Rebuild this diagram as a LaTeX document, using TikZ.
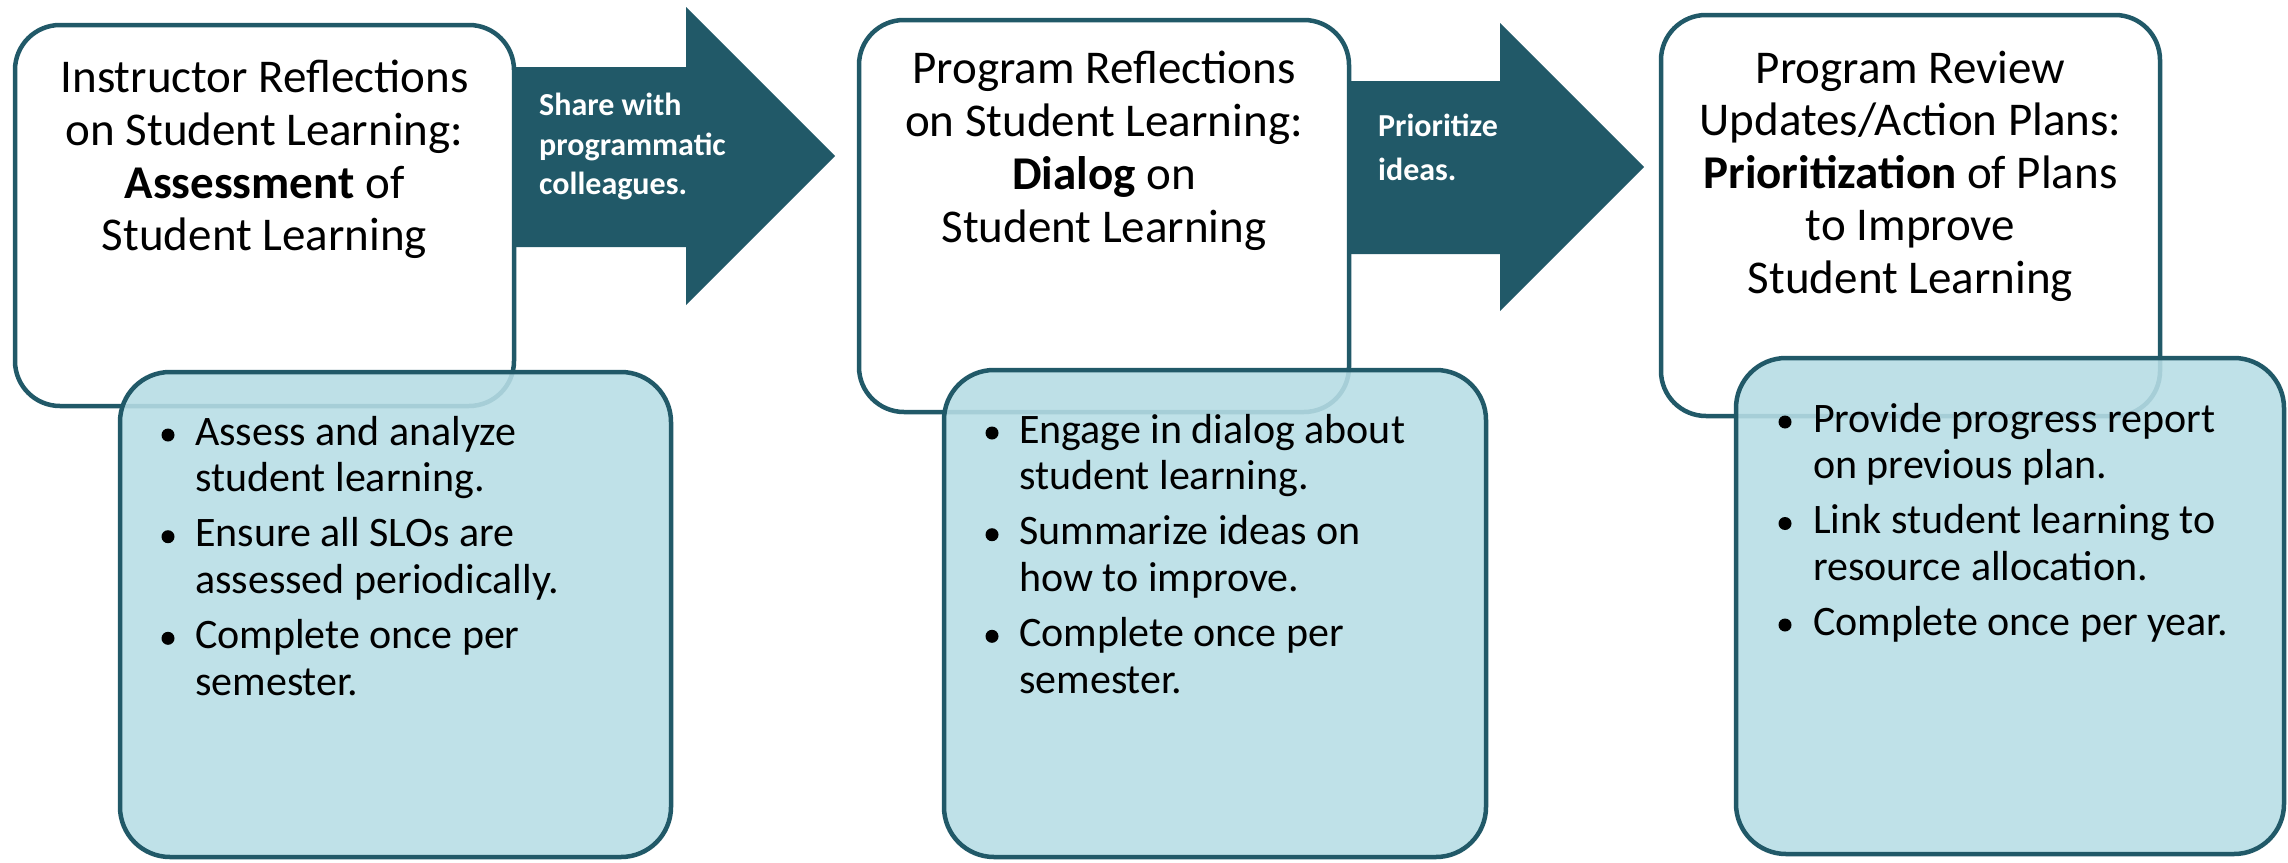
\documentclass[tikz,border=0pt]{standalone}
\usepackage{fontspec}
\setmainfont{Carlito}
\definecolor{deepteal}{RGB}{33,89,104}
\definecolor{paleblue}{RGB}{183,221,229}

\begin{document}
\begin{tikzpicture}[x=1pt,y=-1pt,
  panel/.style={draw=deepteal, line width=4.5pt, fill=white, rounded corners=45pt,
    inner sep=0pt, outer sep=0pt},
  detail/.style={draw=deepteal, line width=4.5pt, fill=paleblue, fill opacity=0.89,
    rounded corners=50pt, inner sep=0pt, outer sep=0pt},
  flow/.style={fill=deepteal},
  headline/.style={font=\fontsize{47}{52}\selectfont, anchor=base, inner sep=0pt},
  arrowtext/.style={font=\fontsize{32}{38}\selectfont\bfseries, text=white,
    anchor=base west, inner sep=0pt},
  itemtext/.style={font=\fontsize{42}{46}\selectfont, anchor=base west, inner sep=0pt},
  dot/.style={fill=black}
]
\useasboundingbox (0,0) rectangle (2288,862);

% upper white panels
\node[panel, minimum width=499pt, minimum height=381pt] (inst) at (264.5,215.5) {};
\node[panel, minimum width=490pt, minimum height=392pt] (prog) at (1104,216) {};
\node[panel, minimum width=499pt, minimum height=401pt] (rev)  at (1910.5,215.5) {};

% block arrows between the panels
\coordinate (a1up) at (686,67);
\coordinate (a1dn) at (686,247);
\fill[flow] (inst.east |- a1up) -- (a1up) -- (686,7) -- (835,156) -- (686,305)
  -- (a1dn) -- (inst.east |- a1dn) -- cycle;
\coordinate (a2up) at (1500,81);
\coordinate (a2dn) at (1500,254);
\fill[flow] (prog.east |- a2up) -- (a2up) -- (1500,23) -- (1644,167) -- (1500,311)
  -- (a2dn) -- (prog.east |- a2dn) -- cycle;

\node[arrowtext] (s1) at (539,115) {Share with};
\node[arrowtext] (s2) at (539,155) {programmatic};
\node[arrowtext] (s3) at (539,194) {colleagues.};
\node[arrowtext] (p1) at (1378,136) {Prioritize};
\node[arrowtext] (p2) at (1378,180) {ideas.};

% panel headings
\node[headline] (h11) at (264.5,92)  {Instructor Reflections};
\node[headline] (h12) at (264.5,145) {on Student Learning:};
\node[headline] (h13) at (264.5,198) {\textbf{Assessment} of};
\node[headline] (h14) at (264.5,250) {Student Learning};

\node[headline] (h21) at (1104,83)  {Program Reflections};
\node[headline] (h22) at (1104,136) {on Student Learning:};
\node[headline] (h23) at (1104,189) {\textbf{Dialog} on};
\node[headline] (h24) at (1104,242) {Student Learning};

\node[headline] (h31) at (1910.5,83)  {Program Review};
\node[headline] (h32) at (1910.5,135.5) {Updates/Action Plans:};
\node[headline] (h33) at (1910.5,188) {\textbf{Prioritization} of Plans};
\node[headline] (h34) at (1910.5,240.5) {to Improve};
\node[headline] (h35) at (1910.5,293) {Student Learning};

% lower detail panels
\node[detail, minimum width=551pt, minimum height=485pt] (d1) at (395.5,614.5) {};
\node[detail, minimum width=542pt, minimum height=487pt] (d2) at (1215,613.5) {};
\node[detail, minimum width=548pt, minimum height=496pt] (d3) at (2010,606) {};

% first list
\fill[dot] (168,435) circle (6.5);
\fill[dot] (168,536.7) circle (6.5);
\fill[dot] (168,638.3) circle (6.5);
\node[itemtext] (l11) at (195,445)   {Assess and analyze};
\node[itemtext] (l12) at (195,491.7) {student learning.};
\node[itemtext] (l13) at (195,546.7) {Ensure all SLOs are};
\node[itemtext] (l14) at (195,593.3) {assessed periodically.};
\node[itemtext] (l15) at (195,648.3) {Complete once per};
\node[itemtext] (l16) at (195,695)   {semester.};

% second list
\fill[dot] (992,433) circle (6.5);
\fill[dot] (992,534.7) circle (6.5);
\fill[dot] (992,636.3) circle (6.5);
\node[itemtext] (l21) at (1019,443)   {Engage in dialog about};
\node[itemtext] (l22) at (1019,489.7) {student learning.};
\node[itemtext] (l23) at (1019,544.7) {Summarize ideas on};
\node[itemtext] (l24) at (1019,591.3) {how to improve.};
\node[itemtext] (l25) at (1019,646.3) {Complete once per};
\node[itemtext] (l26) at (1019,693)   {semester.};

% third list
\fill[dot] (1785,422) circle (6.5);
\fill[dot] (1785,523.5) circle (6.5);
\fill[dot] (1785,625) circle (6.5);
\node[itemtext] (l31) at (1813,432)   {Provide progress report};
\node[itemtext] (l32) at (1813,478.5) {on previous plan.};
\node[itemtext] (l33) at (1813,533.5) {Link student learning to};
\node[itemtext] (l34) at (1813,580)   {resource allocation.};
\node[itemtext] (l35) at (1813,635)   {Complete once per year.};
\end{tikzpicture}
\end{document}
